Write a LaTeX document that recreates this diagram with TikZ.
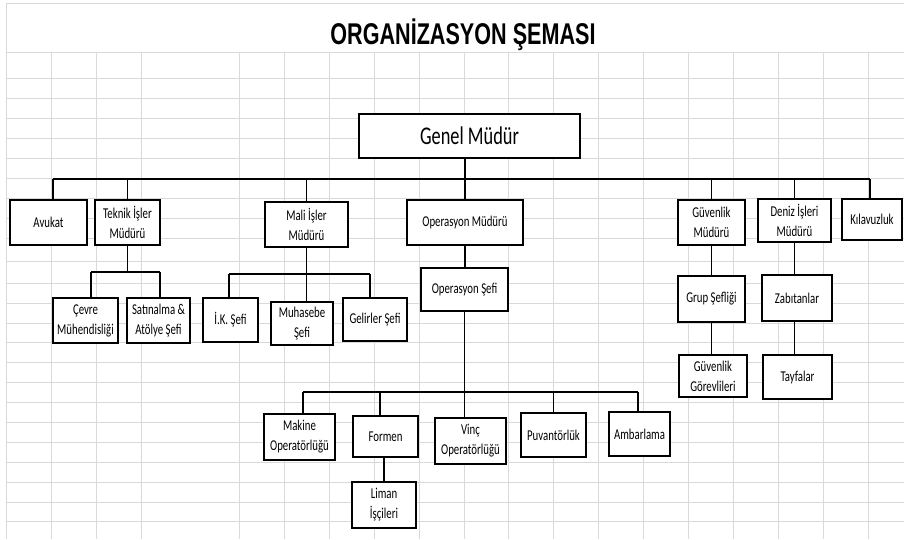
\documentclass[tikz,border=0pt]{standalone}
\usepackage{fontspec}
\setmainfont{Carlito}[FakeStretch=0.72]
\newfontfamily\titlefont{Liberation Sans}[FakeStretch=0.72]
\definecolor{gridgray}{HTML}{D9D9D9}
\tikzset{
  gridline/.style={draw=gridgray, line width=0.9pt},
  box/.style={draw=black, line width=2.2pt, fill=white, inner sep=0pt, align=center,
              font=\fontsize{15}{20}\selectfont},
  link/.style={draw=black, line width=1.3pt},
}
\begin{document}
\begin{tikzpicture}[x=1pt,y=-1pt]
\useasboundingbox[fill=white] (0,0) rectangle (904,539);
% grid
\draw[gridline] (6.5,3) -- (904,3);
\draw[gridline] (6.5,3) -- (6.5,539);
\foreach \yy in {52,78,98,118,138,158,178,198,218,238,261,283,303,323,342,362,382,402,422,442,462,482,502,521}
  \draw[gridline] (6.5,\yy) -- (904,\yy);
\foreach \xx in {51.5,96.5,141.5}
  \draw[gridline] (\xx,52) -- (\xx,539);
\foreach \k in {0,...,14}
  \draw[gridline] ({239.5+44.9*\k},52) -- ({239.5+44.9*\k},539);
% title
\node[anchor=base, inner sep=0pt, font=\titlefont\bfseries\fontsize{30}{30}\selectfont] (title) at (463,44.5) {ORGANİZASYON ŞEMASI};
% boxes
\node[box, minimum width=221pt, minimum height=44pt, font=\fontsize{25.5}{26}\selectfont] (gm) at (469.5,136) {Genel Müdür};
\node[box, minimum width=77pt, minimum height=45pt] (avukat) at (48.5,222.5) {Avukat};
\node[box, minimum width=65pt, minimum height=45pt] (teknik) at (127.5,222.5) {Teknik İşler\\Müdürü};
\node[box, minimum width=83pt, minimum height=45pt] (mali) at (306.5,224.5) {Mali İşler\\Müdürü};
\node[box, minimum width=116pt, minimum height=45pt] (opm) at (465,222.5) {Operasyon Müdürü};
\node[box, minimum width=67pt, minimum height=45pt] (guvm) at (711.5,222.5) {Güvenlik\\Müdürü};
\node[box, minimum width=73pt, minimum height=43pt] (deniz) at (794.5,220.5) {Deniz İşleri\\Müdürü};
\node[box, minimum width=60pt, minimum height=41pt] (kilavuz) at (872,219.5) {Kılavuzluk};
\node[box, minimum width=65pt, minimum height=45pt] (cevre) at (85.5,320.5) {Çevre\\Mühendisliği};
\node[box, minimum width=63pt, minimum height=45pt] (satin) at (158.5,320.5) {Satınalma \&\\Atölye Şefi};
\node[box, minimum width=55pt, minimum height=44pt] (ik) at (230.5,320) {İ.K. Şefi};
\node[box, minimum width=62pt, minimum height=43pt] (muhasebe) at (302,323.5) {Muhasebe\\Şefi};
\node[box, minimum width=64pt, minimum height=43pt] (gelir) at (375,319.5) {Gelirler Şefi};
\node[box, minimum width=87pt, minimum height=43pt] (opsef) at (464.5,289.5) {Operasyon Şefi};
\node[box, minimum width=67pt, minimum height=46pt] (grup) at (711.5,299) {Grup Şefliği};
\node[box, minimum width=68pt, minimum height=42pt] (guvgor) at (713,376) {Güvenlik\\Görevlileri};
\node[box, minimum width=70pt, minimum height=46pt] (zabit) at (797,298) {Zabıtanlar};
\node[box, minimum width=69pt, minimum height=44pt] (tayfa) at (797.5,377) {Tayfalar};
\node[box, minimum width=71pt, minimum height=46pt] (makine) at (299.5,437) {Makine\\Operatörlüğü};
\node[box, minimum width=65pt, minimum height=41pt] (formen) at (385.5,436.5) {Formen};
\node[box, minimum width=71pt, minimum height=46pt] (vinc) at (470.5,441) {Vinç\\Operatörlüğü};
\node[box, minimum width=65pt, minimum height=44pt] (puvan) at (553.5,435) {Puvantörlük};
\node[box, minimum width=61pt, minimum height=44pt] (ambar) at (639.5,434) {Ambarlama};
\node[box, minimum width=64pt, minimum height=46pt] (liman) at (384,505) {Liman\\İşçileri};
% bus coordinates
\coordinate (busL) at (53,179);
\coordinate (busR) at (870,179);
\coordinate (tkL) at (91,272);
\coordinate (tkR) at (160,272);
\coordinate (mkL) at (229,274);
\coordinate (mkR) at (370,274);
\coordinate (obL) at (303,392);
\coordinate (obR) at (638,392);
\coordinate (fm) at (380,392);
% connectors
\draw[link] (busL) -- (busR);
\draw[link] (opm.north) -- (opm.north |- gm.south);
\draw[link] (busL) -- (avukat.north -| busL);
\draw[link] (teknik.north) -- (teknik.north |- busL);
\draw[link] (mali.north) -- (mali.north |- busL);
\draw[link] (guvm.north) -- (guvm.north |- busL);
\draw[link] (deniz.north) -- (deniz.north |- busL);
\draw[link] (busR) -- (kilavuz.north -| busR);
% teknik
\draw[link] (teknik.south) -- (teknik.south |- tkL);
\draw[link] (tkL) -- (tkR);
\draw[link] (tkL) -- (cevre.north -| tkL);
\draw[link] (tkR) -- (satin.north -| tkR);
% mali
\draw[link] (mali.south) -- (mali.south |- muhasebe.north);
\draw[link] (mkL) -- (mkR);
\draw[link] (mkL) -- (ik.north -| mkL);
\draw[link] (mkR) -- (gelir.north -| mkR);
% operasyon
\draw[link] (opm.south) -- (opm.south |- opsef.north);
\draw[link] (opsef.south) -- (opsef.south |- vinc.north);
\draw[link] (obL) -- (obR);
\draw[link] (obL) -- (makine.north -| obL);
\draw[link] (fm) -- (formen.north -| fm);
\draw[link] (puvan.north) -- (puvan.north |- obL);
\draw[link] (obR) -- (ambar.north -| obR);
\draw[link] (liman.north) -- (liman.north |- formen.south);
% guvenlik / deniz
\draw[link] (guvm.south) -- (grup.north);
\draw[link] (grup.south) -- (grup.south |- guvgor.north);
\draw[link] (deniz.south) -- (deniz.south |- zabit.north);
\draw[link] (zabit.south -| deniz.south) -- (deniz.south |- tayfa.north);
\end{tikzpicture}
\end{document}
